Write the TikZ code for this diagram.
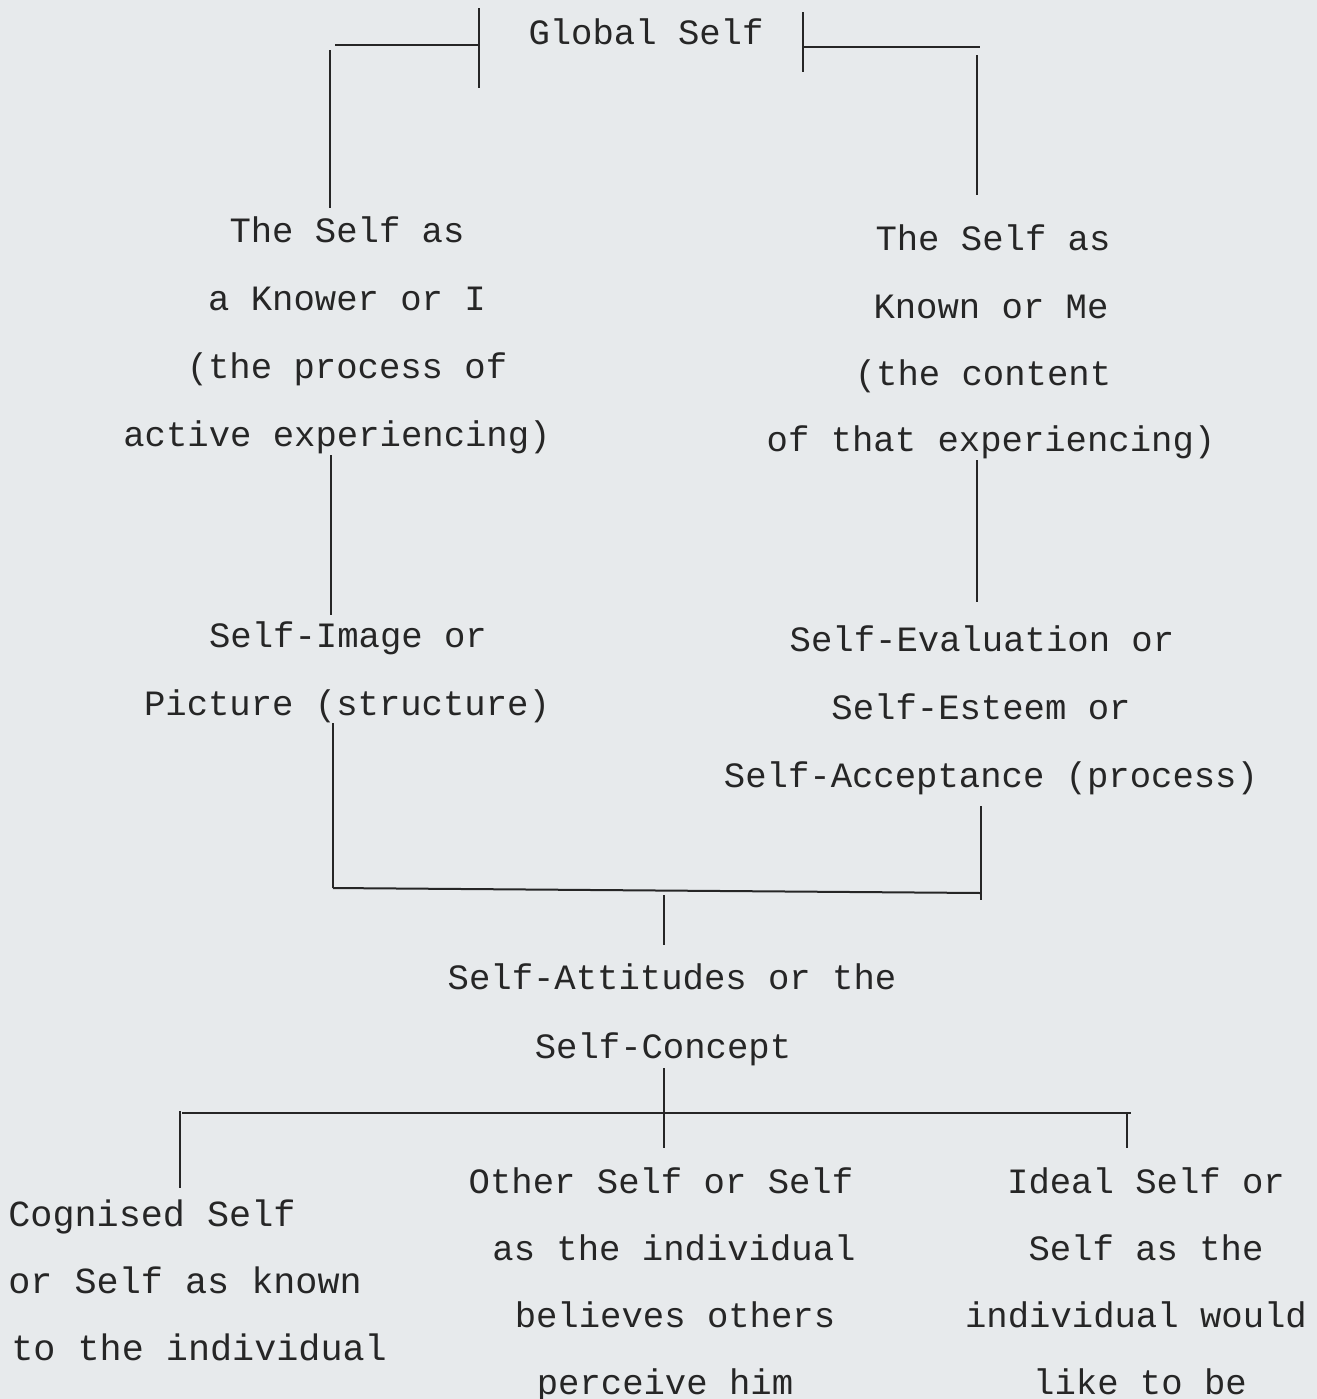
\documentclass[tikz,border=0pt]{standalone}
\usepackage{fontspec}
\setmainfont{Liberation Mono}
\definecolor{paper}{HTML}{E7EAEC}
\definecolor{ink}{HTML}{262626}
\begin{document}
\begin{tikzpicture}[x=0.5pt,y=-0.5pt,
  txt/.style={anchor=base,inner sep=0pt,text=ink,font=\fontsize{17.8}{20}\selectfont},
  txtl/.style={txt,anchor=base west,font=\fontsize{18.4}{20}\selectfont},
  rule/.style={draw=ink,line width=1pt}]
\fill[paper] (0,0) rectangle (1317,1399);
\useasboundingbox (0,0) rectangle (1317,1399);
% texts
\node[txt] (g) at (646,44) {Global Self};
\node[txt] (a1) at (347,242) {The Self as};
\node[txt] (a2) at (347,310) {a Knower or I};
\node[txt] (a3) at (347,378) {(the process of};
\node[txt] (a4) at (337,446) {active experiencing)};
\node[txt] (b1) at (993,250) {The Self as};
\node[txt] (b2) at (991,318) {Known or Me};
\node[txt] (b3) at (983,385) {(the content};
\node[txt] (b4) at (991,451) {of that experiencing)};
\node[txt] (c1) at (348,647) {Self-Image or};
\node[txt] (c2) at (347,715) {Picture (structure)};
\node[txt] (d1) at (982,651) {Self-Evaluation or};
\node[txt] (d2) at (981,719) {Self-Esteem or};
\node[txt] (d3) at (991,787) {Self-Acceptance (process)};
\node[txt] (e1) at (672,989) {Self-Attitudes or the};
\node[txt] (e2) at (663,1058) {Self-Concept};
\node[txtl] (f1) at (8,1226) {Cognised Self};
\node[txtl] (f2) at (8,1293) {or Self as known};
\node[txtl] (f3) at (11,1360) {to the individual};
\node[txt] (h1) at (661,1193) {Other Self or Self};
\node[txt] (h2) at (674,1260) {as the individual};
\node[txt] (h3) at (675,1327) {believes others};
\node[txt] (h4) at (665,1394) {perceive him};
\node[txt] (i1) at (1146,1193) {Ideal Self or};
\node[txt] (i2) at (1146,1260) {Self as the};
\node[txt] (i3) at (1136,1327) {individual would};
\node[txt] (i4) at (1140,1394) {like to be};
% connector coordinates
\coordinate (gLt) at (479,8);  \coordinate (gLb) at (479,88);
\coordinate (gLh) at (335,45); \coordinate (gLm) at (479,45);
\coordinate (aTop) at (330,50); \coordinate (aBot) at (330,208);
\coordinate (gRt) at (803,12); \coordinate (gRb) at (803,72);
\coordinate (gRm) at (803,47); \coordinate (gRh) at (980,47);
\coordinate (bTop) at (977,55); \coordinate (bBot) at (977,195);
\coordinate (a4b) at (331,455); \coordinate (c1t) at (331,615);
\coordinate (b4b) at (977,460); \coordinate (d1t) at (977,602);
\coordinate (c2b) at (333,723); \coordinate (cJ) at (333,888);
\coordinate (d3b) at (981,806); \coordinate (dJ) at (981,900);
\coordinate (dH) at (981,893);
\coordinate (eT) at (664,895); \coordinate (eB) at (664,945);
\coordinate (e2b) at (664,1068); \coordinate (mid) at (664,1148);
\coordinate (hL) at (182,1113); \coordinate (hR) at (1131,1113);
\coordinate (fT) at (180,1111); \coordinate (fB) at (180,1188);
\coordinate (iT) at (1127,1113); \coordinate (iB) at (1127,1148);
% connectors
\draw[rule] (gLt) -- (gLb);
\draw[rule] (gLh) -- (gLm);
\draw[rule] (aTop) -- (aBot);
\draw[rule] (gRt) -- (gRb);
\draw[rule] (gRm) -- (gRh);
\draw[rule] (bTop) -- (bBot);
\draw[rule] (a4b) -- (c1t);
\draw[rule] (b4b) -- (d1t);
\draw[rule] (c2b) -- (cJ);
\draw[rule] (d3b) -- (dJ);
\draw[rule] (cJ) -- (dH);
\draw[rule] (eT) -- (eB);
\draw[rule] (e2b) -- (mid);
\draw[rule] (hL) -- (hR);
\draw[rule] (fT) -- (fB);
\draw[rule] (iT) -- (iB);
\end{tikzpicture}
\end{document}
